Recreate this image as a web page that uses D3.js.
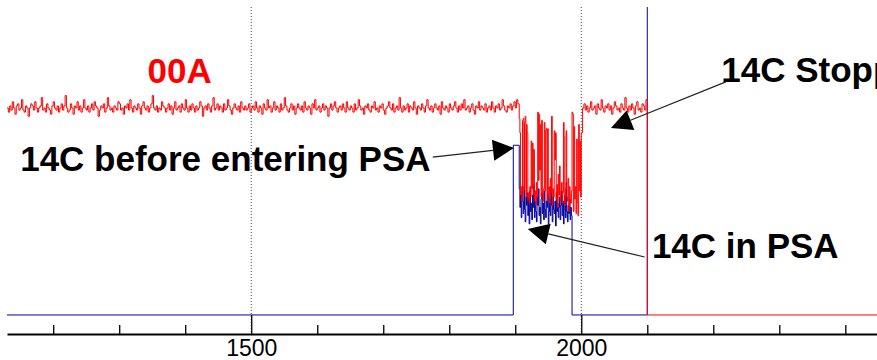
<!DOCTYPE html>
<html>
<head>
<meta charset="utf-8">
<script src="https://cdn.jsdelivr.net/npm/d3@7"></script>
<style>
  body { margin: 0; background: #fff; }
  svg { display: block; }
  text { font-family: "Liberation Sans", Arial, Helvetica, sans-serif; }
</style>
</head>
<body>
<div id="chart"></div>
<script>
// channel axis
const xDomain = [1130, 2448];
const yDomain = [-9.2, 148.8];
const minorTicks = [1200, 1300, 1400, 1600, 1700, 1800, 1900, 2100, 2200, 2300, 2400];
const majorTicks = [1500, 2000];

// red trace (00A) before the PSA, every 2 channels
const redStart = 1130, redStep = 2;
const redValues = [
  100,98,101,99,103,100,97,101,102,99,100,104,99,98,101,100,96,100,102,101,
  99,103,100,98,100,101,105,99,100,98,102,100,99,97,101,103,100,99,101,98,
  100,102,99,101,106,100,98,99,102,100,97,101,100,103,99,101,98,100,104,100,
  99,101,98,100,102,99,103,101,100,96,99,101,100,102,98,100,105,101,99,100,
  98,101,100,99,103,102,99,100,97,101,100,102,99,104,100,98,101,100,99,102,
  100,97,101,103,100,99,101,98,100,102,106,100,99,101,98,100,99,103,101,100,
  98,100,102,99,101,97,100,103,99,100,101,98,102,100,99,104,100,98,101,99,
  102,100,98,101,99,100,103,101,96,100,101,99,102,100,98,101,105,99,100,102,
  99,101,100,98,102,99,100,104,101,99,97,100,102,100,99,101,98,103,100,99,
  101,99,100,102,98,100,101,99,103,100,98,101,100,97,102,100,99,104,100,101,
  98,100,103,99,101,100,98,102,99,100,105,101,99,98,100,102,99,101,97,100,
  102,100,99,101,98,103,100,99,101,100,97,102,100,104,99,100,101,98,100,102,
  99,101,100,96,100,102,99,101,103,100,98,100,101,99,102,100,98,103,100,99,
  101,100,98,102,99,100,104,101,99,100,97,101,100,102,99,98,101,100,103,99,
  100,98,101,100,102,99,97,100,101,103,100,99,102,98,100,101,99,105,100,98,
  101,99,100,102,98,101,100,99,103,100,97,101,100,99,102,100,98,101,104,100,
  99,101,98,100,102,100,99,101,97,103,100,99,101,100,98,102,100,99,101,103,
  100,98,101,99,102,100,104,99,100,101,98,100,102,99,97,101,100,103,99,101,
  100,99,102,98,100,101,99,103,100,98,101,100,102,99,100,104,101,99,98,101,
  100,102,99,101,103,100,104,102
];
// red trace while 14C is in the PSA, every channel
const redPsaStart = 1906, redPsaStep = 1;
const redPsaValues = [
  95,88,58,62,55,94,95,60,93,96,57,92,88,56,59,54,62,57,84,61,
  83,58,80,55,60,53,64,57,98,65,97,70,92,57,94,59,55,61,93,60,
  89,90,55,90,58,62,54,66,59,96,53,61,57,89,75,88,56,63,52,68,
  58,72,55,60,64,54,59,93,86,53,61,89,57,55,66,50,62,58,54,60,
  98,97,50,91,56,62,49,85,54,48,92,60,84,57,88
];
// red trace after the PSA, every 2 channels
const redAfterStart = 2002, redAfterStep = 2;
const redAfterValues = [
  100,102,99,101,98,100,103,99,100,101,97,102,100,99,104,100,98,101,100,102,
  99,101,97,100,103,101,99,100,98,102,100,99,105,100,98,101,99,102,100,97,
  101,103,99,100,98,102,101,99,104
];
const redTailX = [2100, 2448];
const redTailValues = [0, 0];

// blue trace (14C)
const blueStepX = [1130, 1897];
const blueStepValues = [0, 82];
const bluePsaStart = 1906, bluePsaStep = 1;
const bluePsaValues = [
  61,52,58,47,60,55,49,62,51,45,57,53,59,48,56,44,60,50,54,46,
  58,52,63,47,55,50,45,57,53,61,48,52,44,56,59,49,54,46,60,51,
  47,55,52,58,44,50,56,48,62,53,45,57,51,49,55,43,59,50,54,47,
  52,57,46,53,60,48,55,44,51,58,47,64,50,45,53,49,56,46,52,48
];
const blueTailX = [1986, 2100, 2448];
const blueTailValues = [0, 300, 300];

// annotations, anchored in data units
const labels = [
  { text: "00A", x: 1343, y: 112.1, color: "#ff0000" },
  { text: "14C before entering PSA", x: 1150, y: 69.6, color: "#000" },
  { text: "14C in PSA", x: 2107, y: 27.5, color: "#000" },
  { text: "14C Stopped", x: 2212, y: 112.6, color: "#000" }
];
const arrows = [
  { x1: 1775, y1: 76.3, x2: 1898, y2: 80.7 },
  { x1: 2096, y1: 28, x2: 1919, y2: 41.5 },
  { x1: 2219, y1: 112.6, x2: 2045, y2: 90.3 }
];

const width = 877, height = 360;
const plotLeft = 7, plotRight = 877, plotTop = 7, axisY = 334;

const svg = d3.select("#chart").append("svg")
  .attr("width", width)
  .attr("height", height);

const x = d3.scaleLinear().domain(xDomain).range([plotLeft, plotRight]);
const y = d3.scaleLinear().domain(yDomain).range([axisY, plotTop]);

svg.append("clipPath").attr("id", "plot")
  .append("rect")
  .attr("x", plotLeft).attr("y", plotTop)
  .attr("width", plotRight - plotLeft).attr("height", axisY - plotTop);

function sampled(start, step, values) {
  return values.map((v, i) => ({ x: start + i * step, v: v }));
}
function pairs(xs, vs) {
  return xs.map((d, i) => ({ x: d, v: vs[i] }));
}

const red = [].concat(
  sampled(redStart, redStep, redValues),
  sampled(redPsaStart, redPsaStep, redPsaValues),
  sampled(redAfterStart, redAfterStep, redAfterValues),
  pairs(redTailX, redTailValues)
);
const blue = [].concat(
  pairs(blueStepX, blueStepValues),
  sampled(bluePsaStart, bluePsaStep, bluePsaValues),
  pairs(blueTailX, blueTailValues)
);

// dotted grid at the labelled channels
svg.append("g")
  .selectAll("line")
  .data(majorTicks)
  .enter()
  .append("line")
  .attr("x1", d => x(d)).attr("x2", d => x(d))
  .attr("y1", plotTop).attr("y2", axisY)
  .attr("stroke", "#444")
  .attr("stroke-width", 1)
  .attr("stroke-dasharray", "1,2");

const line = d3.line()
  .x(d => x(d.x))
  .y(d => y(d.v))
  .curve(d3.curveStepAfter);

const plot = svg.append("g").attr("clip-path", "url(#plot)");

plot.append("path")
  .datum(blue)
  .attr("d", line)
  .attr("fill", "none")
  .attr("stroke", "#00009a")
  .attr("stroke-width", 1);

plot.append("path")
  .datum(red)
  .attr("d", line)
  .attr("fill", "none")
  .attr("stroke", "#ff0000")
  .attr("stroke-width", 1);

// x axis: minor ticks, then labelled ticks
const minorAxis = svg.append("g")
  .attr("transform", "translate(0," + axisY + ")")
  .call(d3.axisBottom(x).tickValues(minorTicks).tickSize(-9).tickSizeOuter(0).tickFormat(""));
minorAxis.select(".domain").attr("stroke", "#000").attr("stroke-width", 2);
minorAxis.selectAll(".tick line").attr("stroke", "#000").attr("stroke-width", 1.3);

const majorAxis = svg.append("g")
  .attr("transform", "translate(0," + axisY + ")")
  .call(d3.axisBottom(x).tickValues(majorTicks).tickSize(-19).tickSizeOuter(0).tickPadding(6).tickFormat(d3.format("d")));
majorAxis.select(".domain").remove();
majorAxis.selectAll(".tick line").attr("stroke", "#000").attr("stroke-width", 1.3);
majorAxis.selectAll(".tick text")
  .attr("fill", "#000")
  .style("font-size", "23px")
  .style("font-family", "'Liberation Sans', Arial, Helvetica, sans-serif");

// annotations
svg.append("g")
  .selectAll("text")
  .data(labels)
  .enter()
  .append("text")
  .attr("x", d => x(d.x))
  .attr("y", d => y(d.y))
  .attr("fill", d => d.color)
  .style("font-size", "35px")
  .style("font-weight", "bold")
  .text(d => d.text);

const headLen = 21, headHalf = 10.5;
arrows.forEach(a => {
  const x1 = x(a.x1), y1 = y(a.y1), x2 = x(a.x2), y2 = y(a.y2);
  const ang = Math.atan2(y2 - y1, x2 - x1);
  const bx = x2 - headLen * Math.cos(ang), by = y2 - headLen * Math.sin(ang);
  svg.append("line")
    .attr("x1", x1).attr("y1", y1)
    .attr("x2", bx).attr("y2", by)
    .attr("stroke", "#222")
    .attr("stroke-width", 1.2);
  const nx = -Math.sin(ang), ny = Math.cos(ang);
  svg.append("path")
    .attr("d", "M" + x2 + "," + y2 +
      "L" + (bx + nx * headHalf) + "," + (by + ny * headHalf) +
      "L" + (bx - nx * headHalf) + "," + (by - ny * headHalf) + "Z")
    .attr("fill", "#000");
});
</script>
</body>
</html>
